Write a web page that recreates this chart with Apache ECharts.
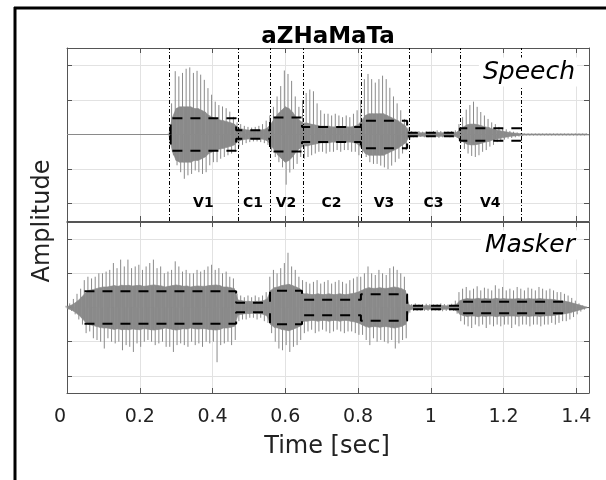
<!DOCTYPE html>
<html>
<head>
<meta charset="utf-8">
<script src="https://cdn.jsdelivr.net/npm/echarts@6/dist/echarts.min.js"></script>
<style>
  html, body { margin: 0; padding: 0; background: #fff; }
  #chart { width: 606px; height: 480px; }
</style>
</head>
<body>
<div id="chart"></div>
<script>
// sample grid of the envelope readings (sec)
const timeStep = 0.01;

const speechStart = 0.28;
const speechUp = [
  0.02, 0.9, 1.83, 1.68, 1.78, 1.9, 1.94, 1.78, 1.84, 1.73,
  1.58, 1.34, 1.15, 0.95, 0.85, 0.81, 0.76, 0.66, 0.51, 0.35,
  0.3, 0.25, 0.22, 0.2, 0.22, 0.25, 0.3, 0.4, 0.55, 0.8,
  1.1, 1.4, 1.85, 1.75, 1.55, 1.1, 0.8, 1.0, 1.2, 1.3,
  1.25, 0.9, 0.7, 0.6, 0.6, 0.55, 0.6, 0.55, 0.5, 0.55,
  0.5, 0.6, 0.7, 1.0, 1.6, 1.75, 1.6, 1.5, 1.6, 1.7,
  1.6, 1.35, 1.1, 0.9, 0.7, 0.45, 0.2, 0.1, 0.08, 0.1,
  0.08, 0.09, 0.08, 0.1, 0.12, 0.1, 0.08, 0.09, 0.1, 0.12,
  0.3, 0.5, 0.72, 0.85, 0.95, 0.8, 0.65, 0.55, 0.45, 0.35,
  0.3, 0.22, 0.18, 0.15, 0.1, 0.08, 0.06, 0.04, 0.03, 0.03,
  0.03, 0.03, 0.03, 0.03, 0.03, 0.03, 0.03, 0.03, 0.03, 0.03,
  0.03, 0.03, 0.03, 0.03, 0.03, 0.03
];
const speechDown = [
  -0.02, -0.6, -0.89, -1.09, -1.28, -1.18, -1.14, -1.04, -1.09, -1.14,
  -1.09, -0.89, -0.8, -0.8, -0.7, -0.65, -0.6, -0.55, -0.5, -0.35,
  -0.3, -0.25, -0.22, -0.2, -0.2, -0.22, -0.25, -0.3, -0.5, -0.65,
  -0.8, -0.95, -1.45, -1.1, -1.0, -0.85, -0.65, -0.7, -0.65, -0.6,
  -0.55, -0.5, -0.5, -0.55, -0.5, -0.5, -0.45, -0.5, -0.45, -0.45,
  -0.5, -0.5, -0.6, -0.55, -0.65, -0.8, -0.85, -0.85, -0.9, -0.95,
  -1.0, -0.9, -0.8, -0.7, -0.55, -0.45, -0.15, -0.08, -0.08, -0.07,
  -0.08, -0.08, -0.07, -0.08, -0.1, -0.08, -0.07, -0.08, -0.08, -0.1,
  -0.25, -0.42, -0.55, -0.62, -0.65, -0.6, -0.5, -0.45, -0.35, -0.3,
  -0.22, -0.2, -0.15, -0.12, -0.1, -0.08, -0.06, -0.04, -0.03, -0.03,
  -0.03, -0.03, -0.03, -0.03, -0.03, -0.03, -0.03, -0.03, -0.03, -0.03,
  -0.03, -0.03, -0.03, -0.03, -0.03, -0.03
];
const speechCore = [
  0.01, 0.5, 0.75, 0.8, 0.8, 0.8, 0.8, 0.75, 0.75, 0.7,
  0.65, 0.55, 0.5, 0.45, 0.42, 0.4, 0.37, 0.34, 0.3, 0.2,
  0.16, 0.14, 0.13, 0.12, 0.12, 0.13, 0.14, 0.18, 0.3, 0.45,
  0.6, 0.7, 0.8, 0.75, 0.65, 0.5, 0.4, 0.33, 0.33, 0.3,
  0.28, 0.26, 0.24, 0.24, 0.24, 0.22, 0.22, 0.22, 0.2, 0.22,
  0.22, 0.24, 0.28, 0.4, 0.55, 0.6, 0.6, 0.6, 0.6, 0.6,
  0.55, 0.5, 0.45, 0.4, 0.32, 0.25, 0.08, 0.05, 0.05, 0.05,
  0.05, 0.05, 0.05, 0.05, 0.06, 0.05, 0.05, 0.05, 0.05, 0.06,
  0.14, 0.22, 0.28, 0.3, 0.3, 0.28, 0.25, 0.22, 0.2, 0.16,
  0.13, 0.11, 0.09, 0.07, 0.05, 0.04, 0.03, 0.02, 0.015, 0.015,
  0.015, 0.015, 0.015, 0.015, 0.015, 0.015, 0.015, 0.015, 0.015, 0.015,
  0.015, 0.015, 0.015, 0.015, 0.015, 0.015
];

// masker waveform, from t = 0
const maskerStart = 0;
const maskerUp = [
  0.05, 0.12, 0.25, 0.4, 0.55, 0.8, 0.9, 0.85, 0.9, 1.0,
  1.0, 1.05, 1.1, 1.3, 1.15, 1.4, 1.2, 1.4, 1.15, 1.2,
  1.25, 1.1, 1.2, 1.3, 1.4, 1.15, 1.2, 1.0, 1.05, 1.1,
  1.35, 1.2, 1.05, 1.1, 1.0, 1.0, 1.1, 1.05, 1.1, 1.2,
  1.25, 1.1, 1.15, 1.0, 1.05, 0.9, 0.85, 0.4, 0.35, 0.3,
  0.35, 0.3, 0.35, 0.3, 0.35, 0.45, 0.9, 1.1, 1.0, 1.15,
  1.3, 1.6, 1.2, 1.1, 0.9, 0.8, 0.75, 0.7, 0.75, 0.8,
  0.7, 0.75, 0.8, 0.7, 0.75, 0.8, 0.75, 0.7, 0.8, 0.85,
  0.9, 0.9, 1.0, 1.2, 1.0, 0.95, 1.1, 1.0, 0.95, 1.15,
  1.2, 1.1, 1.0, 0.9, 0.15, 0.1, 0.12, 0.09, 0.1, 0.11,
  0.1, 0.09, 0.1, 0.12, 0.1, 0.09, 0.11, 0.2, 0.45, 0.55,
  0.6, 0.5, 0.55, 0.62, 0.5, 0.58, 0.55, 0.5, 0.65, 0.55,
  0.6, 0.5, 0.55, 0.5, 0.6, 0.55, 0.5, 0.58, 0.55, 0.5,
  0.6, 0.55, 0.5, 0.55, 0.5, 0.45, 0.45, 0.4, 0.35, 0.28,
  0.2, 0.12, 0.06, 0.02
];
const maskerDown = [
  -0.05, -0.1, -0.2, -0.35, -0.5, -0.75, -0.7, -0.9, -0.95, -1.0,
  -1.2, -0.9, -1.0, -1.05, -1.0, -1.25, -1.1, -1.15, -1.3, -1.05,
  -1.15, -1.0, -0.95, -1.0, -1.1, -1.05, -1.0, -1.15, -1.15, -1.3,
  -1.1, -1.05, -1.1, -1.15, -1.0, -1.1, -1.05, -1.15, -1.0, -1.05,
  -1.0, -1.6, -1.1, -1.05, -1.0, -1.1, -0.95, -0.4, -0.35, -0.35,
  -0.3, -0.3, -0.35, -0.3, -0.4, -0.45, -0.75, -1.0, -1.2, -1.25,
  -1.1, -1.3, -1.15, -1.1, -0.95, -0.75, -0.7, -0.65, -0.75, -0.7,
  -0.65, -0.7, -0.75, -0.7, -0.65, -0.7, -0.75, -0.7, -0.7, -0.75,
  -0.8, -0.8, -0.95, -1.1, -0.9, -1.0, -0.95, -1.0, -1.05, -0.95,
  -1.2, -1.05, -0.95, -0.9, -0.15, -0.1, -0.1, -0.09, -0.1, -0.1,
  -0.1, -0.09, -0.1, -0.11, -0.1, -0.09, -0.1, -0.18, -0.4, -0.5,
  -0.55, -0.6, -0.5, -0.55, -0.5, -0.6, -0.5, -0.55, -0.5, -0.55,
  -0.5, -0.5, -0.6, -0.5, -0.55, -0.5, -0.5, -0.55, -0.5, -0.5,
  -0.55, -0.5, -0.5, -0.45, -0.5, -0.45, -0.4, -0.4, -0.35, -0.28,
  -0.2, -0.12, -0.06, -0.02
];
const maskerCore = [
  0.03, 0.06, 0.12, 0.2, 0.3, 0.42, 0.5, 0.52, 0.55, 0.58,
  0.6, 0.6, 0.62, 0.64, 0.62, 0.65, 0.64, 0.65, 0.63, 0.64,
  0.65, 0.62, 0.63, 0.65, 0.66, 0.64, 0.63, 0.6, 0.62, 0.64,
  0.66, 0.64, 0.62, 0.63, 0.6, 0.62, 0.63, 0.62, 0.62, 0.64,
  0.65, 0.66, 0.64, 0.6, 0.6, 0.58, 0.55, 0.22, 0.2, 0.18,
  0.18, 0.17, 0.18, 0.18, 0.2, 0.25, 0.5, 0.58, 0.6, 0.64,
  0.66, 0.68, 0.64, 0.6, 0.55, 0.4, 0.4, 0.38, 0.38, 0.4,
  0.38, 0.38, 0.4, 0.38, 0.38, 0.4, 0.38, 0.38, 0.4, 0.42,
  0.45, 0.5, 0.55, 0.58, 0.56, 0.56, 0.58, 0.56, 0.56, 0.58,
  0.6, 0.58, 0.55, 0.5, 0.08, 0.05, 0.06, 0.05, 0.05, 0.06,
  0.05, 0.05, 0.06, 0.06, 0.05, 0.05, 0.06, 0.09, 0.2, 0.24,
  0.26, 0.25, 0.25, 0.27, 0.25, 0.26, 0.25, 0.25, 0.27, 0.25,
  0.26, 0.25, 0.25, 0.25, 0.26, 0.25, 0.25, 0.26, 0.25, 0.25,
  0.26, 0.25, 0.24, 0.24, 0.23, 0.21, 0.2, 0.18, 0.16, 0.13,
  0.1, 0.07, 0.04, 0.01
];

// segments and their rms levels
const segNames = ["V1", "C1", "V2", "C2", "V3", "C3", "V4"];
const speechBounds = [0.285, 0.465, 0.558, 0.646, 0.808, 0.935, 1.080, 1.247];
const speechRms = [0.47, 0.12, 0.49, 0.22, 0.40, 0.05, 0.18];
const maskerBounds = [0.048, 0.465, 0.558, 0.646, 0.808, 0.935, 1.080, 1.386];
const maskerRms = [0.475, 0.14, 0.49, 0.23, 0.39, 0.05, 0.165];
const segLabelLevel = -2;

const xMin = 0, xMax = 1.435, xStep = 0.2;
const yMin = -2.5, yMax = 2.5;

const FONT = "DejaVu Sans";
const waveColor = "#8a8a8a";

function waveData(start, up, down, core) {
  return up.map(function (u, i) {
    const next = Math.min(i + 1, up.length - 1);
    return [
      +(start + i * timeStep).toFixed(3), u, down[i], core[i],
      +(start + next * timeStep).toFixed(3), core[next]
    ];
  });
}

function stepLine(bounds, levels, sign, closeEnds) {
  const pts = [];
  if (closeEnds) pts.push([bounds[0], 0]);
  levels.forEach(function (lv, i) {
    pts.push([bounds[i], sign * lv]);
    pts.push([bounds[i + 1], sign * lv]);
  });
  if (closeEnds) pts.push([bounds[bounds.length - 1], 0]);
  return pts;
}

// dense core as a band between neighbouring samples, peaks as thin spikes
function renderWave(params, api) {
  const t = api.value(0);
  const tn = api.value(4);
  const c = api.value(3);
  const cn = api.value(5);
  const q = timeStep / 4;
  const upTop = api.coord([t - q, api.value(1)]);
  const upBase = api.coord([t - q, 0]);
  const dnTop = api.coord([t + q, api.value(2)]);
  const dnBase = api.coord([t + q, 0]);
  const children = [];
  if (tn > t) {
    children.push({
      type: "polygon",
      shape: {
        points: [
          api.coord([t, c]), api.coord([tn, cn]),
          api.coord([tn, -cn]), api.coord([t, -c])
        ]
      },
      style: { fill: waveColor, stroke: waveColor, lineWidth: 0.6 }
    });
  }
  children.push({
    type: "line",
    shape: { x1: upBase[0], y1: upBase[1], x2: upTop[0], y2: upTop[1] },
    style: { stroke: waveColor, lineWidth: 1 }
  });
  children.push({
    type: "line",
    shape: { x1: dnBase[0], y1: dnBase[1], x2: dnTop[0], y2: dnTop[1] },
    style: { stroke: waveColor, lineWidth: 1 }
  });
  return { type: "group", children: children };
}

function renderSegLabel(params, api) {
  const p = api.coord([api.value(0), api.value(1)]);
  return {
    type: "text",
    x: p[0],
    y: p[1],
    style: {
      text: segNames[params.dataIndex],
      fontFamily: FONT,
      fontWeight: "bold",
      fontSize: 14,
      fill: "#000",
      align: "center",
      verticalAlign: "middle"
    }
  };
}

const segLabelData = segNames.map(function (n, i) {
  return [(speechBounds[i] + speechBounds[i + 1]) / 2, segLabelLevel];
});

function xAxisFor(grid, pos, labels) {
  return {
    type: "value",
    gridIndex: grid,
    position: pos,
    min: xMin,
    max: xMax,
    interval: xStep,
    axisLine: { show: true, onZero: false, lineStyle: { color: "#555", width: 1 } },
    axisTick: { show: true, inside: true, length: 5, lineStyle: { color: "#555" } },
    axisLabel: {
      show: labels,
      showMaxLabel: false,
      margin: 15,
      fontFamily: FONT,
      fontSize: 19,
      color: "#222",
      formatter: function (v) { return v === 0 ? "{z|0}" : String(+v.toFixed(1)); },
      rich: { z: { fontFamily: FONT, fontSize: 19, color: "#222", padding: [0, 14, 0, 0] } }
    },
    splitLine: { show: pos === "bottom", lineStyle: { color: "#e2e2e2", width: 1 } }
  };
}

function yAxisFor(grid, pos) {
  return {
    type: "value",
    gridIndex: grid,
    position: pos,
    min: yMin,
    max: yMax,
    splitNumber: 5,
    axisLine: { show: true, onZero: false, lineStyle: { color: "#555", width: 1 } },
    axisTick: { show: true, inside: true, length: 5, lineStyle: { color: "#555" } },
    axisLabel: { show: false },
    splitLine: { show: pos === "left", lineStyle: { color: "#e2e2e2", width: 1 } }
  };
}

const rmsStyle = { color: "#000", width: 2, type: [10, 8] };

const chart = echarts.init(document.getElementById("chart"), null, { renderer: "canvas" });

const option = {
  animation: false,
  backgroundColor: "#fff",
  grid: [
    { left: 67, top: 48, width: 522, height: 173 },
    { left: 67, top: 222, width: 522, height: 171 }
  ],
  xAxis: [
    xAxisFor(0, "bottom", false),
    xAxisFor(0, "top", false),
    xAxisFor(1, "bottom", true),
    xAxisFor(1, "top", false)
  ],
  yAxis: [
    yAxisFor(0, "left"),
    yAxisFor(0, "right"),
    yAxisFor(1, "left"),
    yAxisFor(1, "right")
  ],
  series: [
    {
      name: "Speech",
      type: "custom",
      xAxisIndex: 0,
      yAxisIndex: 0,
      renderItem: renderWave,
      encode: { x: 0, y: [1, 2] },
      data: waveData(speechStart, speechUp, speechDown, speechCore),
      z: 3,
      markLine: {
        silent: true,
        symbol: ["none", "none"],
        label: { show: false },
        lineStyle: { color: waveColor, width: 1, type: "solid" },
        data: [{ yAxis: 0 }]
      }
    },
    {
      name: "Masker",
      type: "custom",
      xAxisIndex: 2,
      yAxisIndex: 2,
      renderItem: renderWave,
      encode: { x: 0, y: [1, 2] },
      data: waveData(maskerStart, maskerUp, maskerDown, maskerCore),
      z: 3
    },
    {
      name: "speech rms +",
      type: "line",
      xAxisIndex: 0,
      yAxisIndex: 0,
      data: stepLine(speechBounds, speechRms, 1, true),
      symbol: "none",
      lineStyle: rmsStyle,
      z: 5,
      markLine: {
        silent: true,
        symbol: ["none", "none"],
        label: { show: false },
        lineStyle: { color: "#000", width: 1, type: [4, 2, 1, 2] },
        data: speechBounds.map(function (t) { return { xAxis: t }; })
      }
    },
    {
      name: "speech rms -",
      type: "line",
      xAxisIndex: 0,
      yAxisIndex: 0,
      data: stepLine(speechBounds, speechRms, -1, true),
      symbol: "none",
      lineStyle: rmsStyle,
      z: 5
    },
    {
      name: "masker rms +",
      type: "line",
      xAxisIndex: 2,
      yAxisIndex: 2,
      data: stepLine(maskerBounds, maskerRms, 1, false),
      symbol: "none",
      lineStyle: rmsStyle,
      z: 5
    },
    {
      name: "masker rms -",
      type: "line",
      xAxisIndex: 2,
      yAxisIndex: 2,
      data: stepLine(maskerBounds, maskerRms, -1, false),
      symbol: "none",
      lineStyle: rmsStyle,
      z: 5
    },
    {
      name: "segments",
      type: "custom",
      xAxisIndex: 0,
      yAxisIndex: 0,
      renderItem: renderSegLabel,
      data: segLabelData,
      z: 6
    }
  ],
  graphic: [
    { type: "line", shape: { x1: 15, y1: 7, x2: 15, y2: 480 }, style: { stroke: "#000", lineWidth: 3 }, z: 100 },
    { type: "line", shape: { x1: 14, y1: 8, x2: 606, y2: 8 }, style: { stroke: "#000", lineWidth: 3 }, z: 100 },
    {
      type: "text", x: 328, y: 37, z: 100,
      style: { text: "aZHaMaTa", fontFamily: FONT, fontWeight: "bold", fontSize: 23, fill: "#000", align: "center", verticalAlign: "middle" }
    },
    {
      type: "text", x: 577, y: 72, z: 100,
      style: { text: "Speech", fontFamily: FONT, fontStyle: "italic", fontSize: 25, fill: "#000", align: "right", verticalAlign: "middle", backgroundColor: "#fff", padding: [2, 2, 2, 4] }
    },
    {
      type: "text", x: 577, y: 245, z: 100,
      style: { text: "Masker", fontFamily: FONT, fontStyle: "italic", fontSize: 25, fill: "#000", align: "right", verticalAlign: "middle", backgroundColor: "#fff", padding: [2, 2, 2, 4] }
    },
    {
      type: "text", x: 327, y: 447, z: 100,
      style: { text: "Time [sec]", fontFamily: FONT, fontSize: 24, fill: "#222", align: "center", verticalAlign: "middle" }
    },
    {
      type: "text", x: 43, y: 221, rotation: Math.PI / 2, z: 100,
      style: { text: "Amplitude", fontFamily: FONT, fontSize: 24, fill: "#222", align: "center", verticalAlign: "middle" }
    }
  ]
};

chart.setOption(option);

window.addEventListener("resize", function () {
  chart.resize();
});
</script>
</body>
</html>
